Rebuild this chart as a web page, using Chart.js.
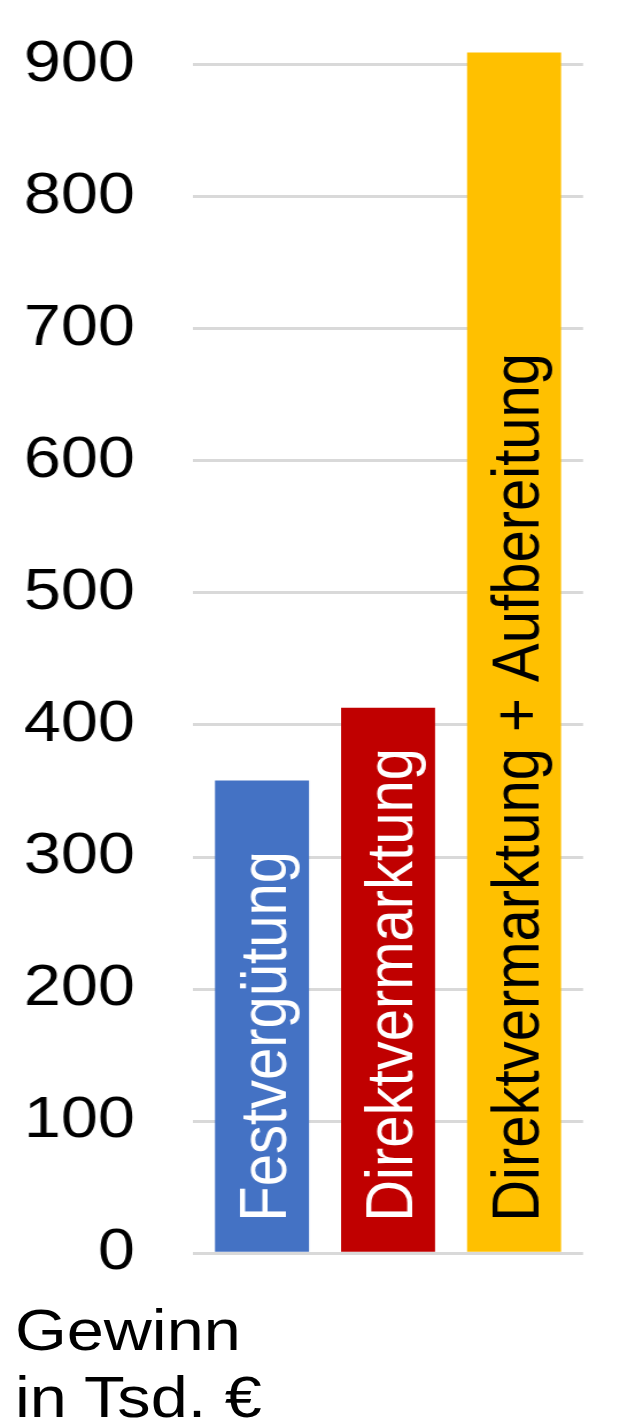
<!DOCTYPE html>
<html lang="de">
<head>
    <meta charset="UTF-8">
    <title>Gewinn in Tsd. €</title>
    <style>
        body {
            margin: 0;
            background: #ffffff;
            overflow: hidden;
        }

        /* the original picture is stretched sideways a little, so the chart is drawn
           narrower and widened again */
        .wrap {
            position: relative;
            width: 560px;
            height: 1421px;
            transform: scaleX(1.1482);
            transform-origin: 0 0;
        }

        .axis-title {
            position: absolute;
            left: 13px;
            top: 1296px;
            font-family: "Liberation Sans", Arial, sans-serif;
            font-size: 58px;
            line-height: 67px;
            color: #000000;
            white-space: nowrap;
        }
    </style>
</head>
<body>
    <div class="wrap">
        <canvas id="gewinnChart"></canvas>
        <div class="axis-title">Gewinn<br>in Tsd. €</div>
    </div>
    <script src="https://cdn.jsdelivr.net/npm/chart.js"></script>
    <script>
        var categories = ['Festvergütung', 'Direktvermarktung', 'Direktvermarktung + Aufbereitung'];
        var gewinn = [358, 413, 909];
        var yTicks = [0, 100, 200, 300, 400, 500, 600, 700, 800, 900];

        var barColors = ['#4472C4', '#C00000', '#FFC000'];
        var labelColors = ['#ffffff', '#ffffff', '#000000'];
        var fontFamily = '"Liberation Sans", Arial, sans-serif';

        // bars sit a bit inside the gridlines
        var insetX = {
            id: 'insetX',
            afterLayout: function (chart) {
                var s = chart.scales.x;
                s.left += 5.2;
                s.right -= 5.2;
                s.width = s.right - s.left;
                s.configure();
            }
        };

        // category names written upright inside the bars
        var barLabels = {
            id: 'barLabels',
            afterDatasetsDraw: function (chart) {
                var ctx = chart.ctx;
                var meta = chart.getDatasetMeta(0);
                ctx.save();
                ctx.font = '58px ' + fontFamily;
                ctx.textAlign = 'left';
                ctx.textBaseline = 'alphabetic';
                meta.data.forEach(function (bar, i) {
                    ctx.save();
                    ctx.translate(bar.x + 20.8, bar.base - 30);
                    ctx.rotate(-Math.PI / 2);
                    ctx.fillStyle = labelColors[i];
                    ctx.fillText(categories[i], 0, 0);
                    ctx.restore();
                });
                ctx.restore();
            }
        };

        var ctx = document.getElementById('gewinnChart').getContext('2d');
        var chart = new Chart(ctx, {
            type: 'bar',
            data: {
                labels: categories,
                datasets: [{
                    data: gewinn,
                    backgroundColor: barColors,
                    borderWidth: 0,
                    barPercentage: 0.746,
                    categoryPercentage: 1,
                    clip: false
                }]
            },
            options: {
                responsive: true,
                maintainAspectRatio: false,
                animation: false,
                layout: {
                    padding: { top: 64.5, right: 52.2, bottom: 167.7, left: 0 }
                },
                plugins: {
                    legend: { display: false },
                    tooltip: { enabled: false }
                },
                scales: {
                    x: {
                        display: false
                    },
                    y: {
                        min: 0,
                        max: 900,
                        afterBuildTicks: function (scale) {
                            scale.ticks = yTicks.map(function (v) { return { value: v }; });
                        },
                        afterFit: function (scale) {
                            scale.width = 168.1;
                            // tick padding would otherwise push the plot down
                            scale.paddingTop = 0;
                            scale.paddingBottom = 0;
                        },
                        ticks: {
                            color: '#000000',
                            padding: 50.5,
                            font: { family: fontFamily, size: 58 }
                        },
                        grid: {
                            color: '#d9d9d9',
                            lineWidth: 3,
                            drawTicks: false
                        },
                        border: { display: false }
                    }
                }
            },
            plugins: [insetX, barLabels]
        });
    </script>
</body>
</html>
